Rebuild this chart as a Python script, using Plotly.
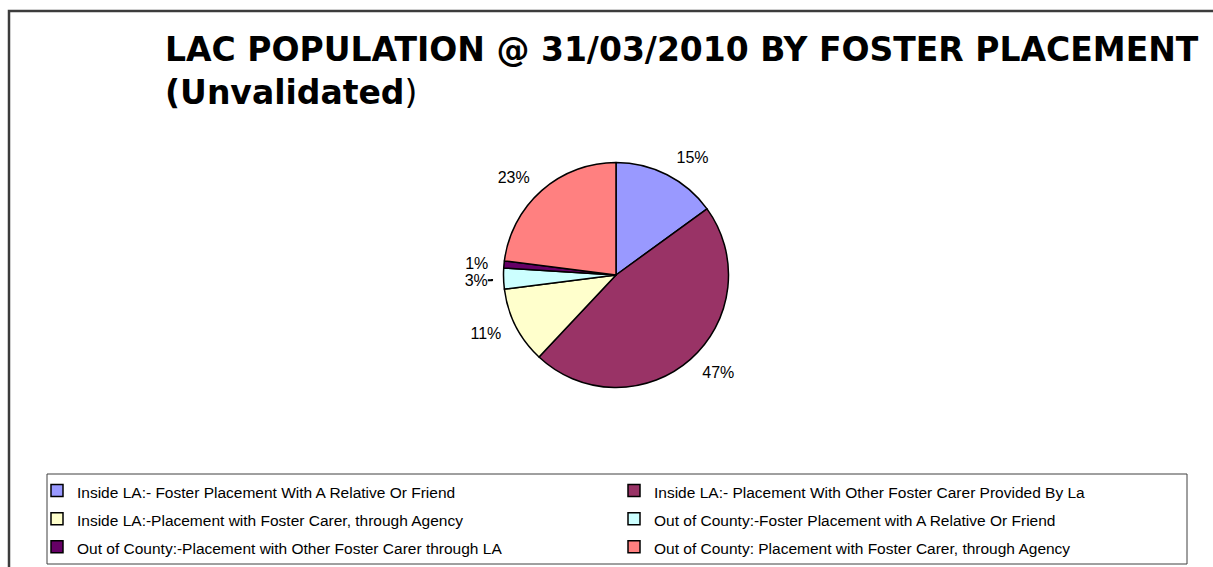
import plotly.graph_objects as go

labels = [
    "Inside LA:- Foster Placement With A Relative Or Friend",
    "Inside LA:- Placement With Other Foster Carer Provided By La",
    "Inside LA:-Placement with Foster Carer, through Agency",
    "Out of County:-Foster Placement with A Relative Or Friend",
    "Out of County:-Placement with Other Foster Carer through LA",
    "Out of County: Placement with Foster Carer, through Agency",
]
values = [15, 47, 11, 3, 1, 23]
colors = ["#9999FF", "#993366", "#FFFFCC", "#CCFFFF", "#660066", "#FF8080"]
title_line1 = "LAC POPULATION @ 31/03/2010 BY FOSTER PLACEMENT"
title_line2 = "(Unvalidated"

W, H = 1213, 567
cx, cy = 616, 275
r_pie = 112.5
r_lab = 124
FONT = "Liberation Sans, Arial, sans-serif"

legend_labels = [f"<span style='font-size:15.5px'>{l}</span>" for l in labels]


def dom(r):
    return dict(x=[(cx - r) / W, (cx + r) / W],
                y=[(H - cy - r) / H, (H - cy + r) / H])


fig = go.Figure()
# invisible companion pie that carries the outside percentage labels
fig.add_trace(go.Pie(
    labels=legend_labels, values=values, sort=False, direction="clockwise",
    rotation=0, showlegend=False, hoverinfo="skip",
    marker=dict(colors=["rgba(0,0,0,0)"] * len(values), line=dict(width=0)),
    texttemplate="%{percent:.0%}", textposition="outside",
    outsidetextfont=dict(family=FONT, size=16, color="black"),
    domain=dom(r_lab),
))
fig.add_trace(go.Pie(
    labels=legend_labels, values=values, sort=False, direction="clockwise",
    rotation=0, textinfo="none",
    marker=dict(colors=colors, line=dict(color="black", width=1.5)),
    hovertemplate="%{label}<br>%{percent:.0%}<extra></extra>",
    domain=dom(r_pie),
))

fig.update_layout(
    width=W, height=H,
    margin=dict(l=0, r=0, t=0, b=0),
    paper_bgcolor="white",
    font=dict(family=FONT, color="black"),
    showlegend=True,
    legend=dict(
        orientation="h",
        x=37 / W, xanchor="left",
        y=1 - 471.5 / H, yanchor="top",
        bgcolor="rgba(0,0,0,0)", borderwidth=0,
        font=dict(size=19.3, family=FONT, color="black"),
        entrywidth=532, entrywidthmode="pixels",
        itemwidth=30,
        traceorder="normal",
    ),
    shapes=[
        dict(type="rect", xref="paper", yref="paper",
             x0=9 / W, x1=1.05, y0=-0.05, y1=1 - 11 / H,
             line=dict(color="#3c3c3c", width=2.5)),
        dict(type="rect", xref="paper", yref="paper",
             x0=47 / W, x1=1187 / W, y0=1 - 564 / H, y1=1 - 474 / H,
             line=dict(color="#404040", width=1)),
    ],
    annotations=[
        dict(xref="paper", yref="paper", x=163 / W, y=1 - 71 / H,
             xanchor="left", yanchor="middle", align="left", showarrow=False,
             text=f"<b>{title_line1}</b><br><b>{title_line2}</b>)",
             font=dict(family="DejaVu Sans", size=33, color="black")),
    ],
)

fig.write_html("out.html", config={"displayModeBar": False},
               post_script="document.body.style.margin='0';")
